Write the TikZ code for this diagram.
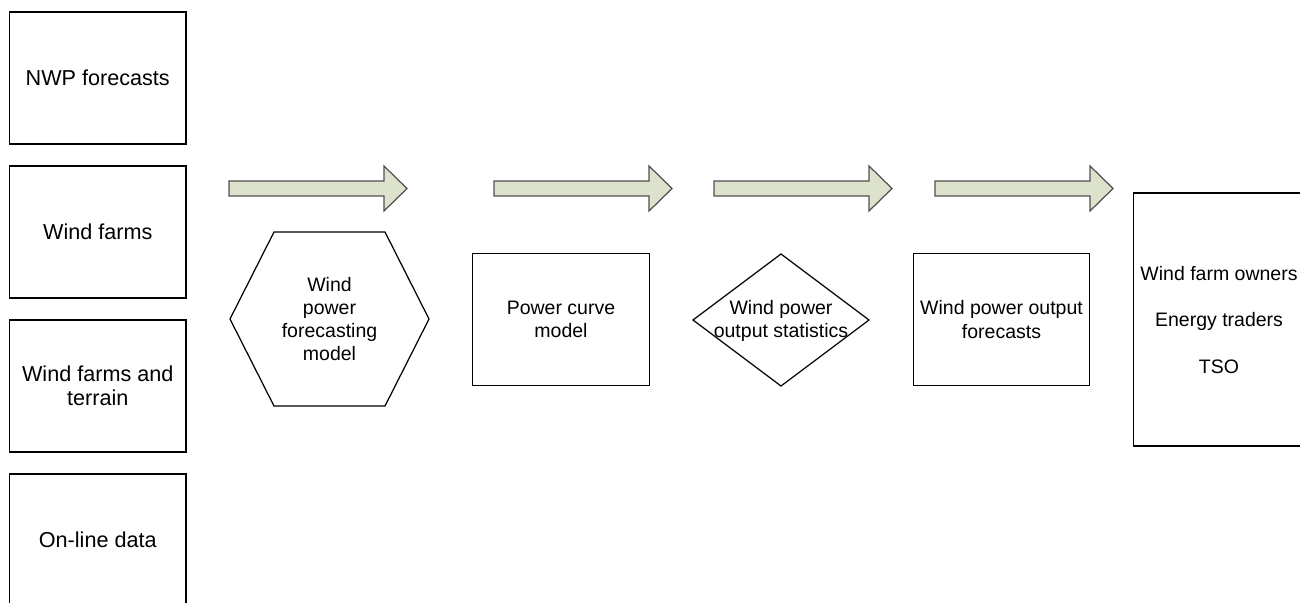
\documentclass[tikz,border=0pt]{standalone}
\usepackage{fontspec}
\setmainfont{Liberation Sans}
\usetikzlibrary{calc}
\definecolor{arrowfill}{RGB}{221,226,204}
\definecolor{arrowline}{RGB}{80,80,80}

\begin{document}
\begin{tikzpicture}[x=0.02cm, y=-0.02cm, font=\fontsize{11.1}{13.2}\selectfont,
	inbox/.style={draw, line width=0.7pt, minimum width=3.53cm, minimum height=2.64cm, inner sep=0pt, align=center},
	bigtext/.style={font=\fontsize{12.3}{13.8}\selectfont},
	plain/.style={inner sep=0pt, align=center},
	outline/.style={draw, line width=0.7pt},
	blockarrow/.style={draw=arrowline, fill=arrowfill, line width=0.7pt, line join=miter}]
	\useasboundingbox (0,0) rectangle (1300,602);
	
	% 输入数据
	\node[inbox, bigtext] (nwp) at (97.75,78) {NWP forecasts};
	\node[inbox, bigtext] (farms) at (97.75,232) {Wind farms};
	\node[inbox, bigtext] (terrain) at (97.75,386) {Wind farms and\\terrain};
	\node[inbox, bigtext] (online) at (97.75,540) {On-line data};
	
	% 预测模型 (六边形)
	\node[plain] (model) at (329.5,319) {Wind\\power\\forecasting\\model};
	\draw[outline] ($(model)+(-99.5,0)$) -- ($(model)+(-55.5,-87)$) -- ($(model)+(55.5,-87)$)
		-- ($(model)+(99.5,0)$) -- ($(model)+(55.5,87)$) -- ($(model)+(-55.5,87)$) -- cycle;
	
	% 功率曲线
	\node[inbox] (curve) at (561,319.5) {Power curve\\model};
	
	% 统计 (菱形)
	\node[plain] (stats) at (781,321) {Wind power\\output statistics};
	\draw[outline] ($(stats)+(0,-67)$) -- ($(stats)+(88,-1)$) -- ($(stats)+(0,65)$) -- ($(stats)+(-88,-1)$) -- cycle;
	
	% 输出预测
	\node[inbox] (output) at (1001.5,319.5) {Wind power output\\forecasts};
	
	% 用户
	\node[draw, line width=0.7pt, minimum width=3.5cm, minimum height=5.06cm] (users) at (1221,319.5) {};
	\node[plain] (usertext) at (1219,320) {Wind farm owners\\[13.2pt]Energy traders\\[13.2pt]TSO};
	
	% 箭头
	\foreach \x in {229,494,714,935}
		\draw[blockarrow] (\x,181) -- ++(155,0) -- ++(0,-15) -- ++(23,22.5) -- ++(-23,22.5)
			-- ++(0,-15) -- ++(-155,0) -- cycle;
\end{tikzpicture}
\end{document}
